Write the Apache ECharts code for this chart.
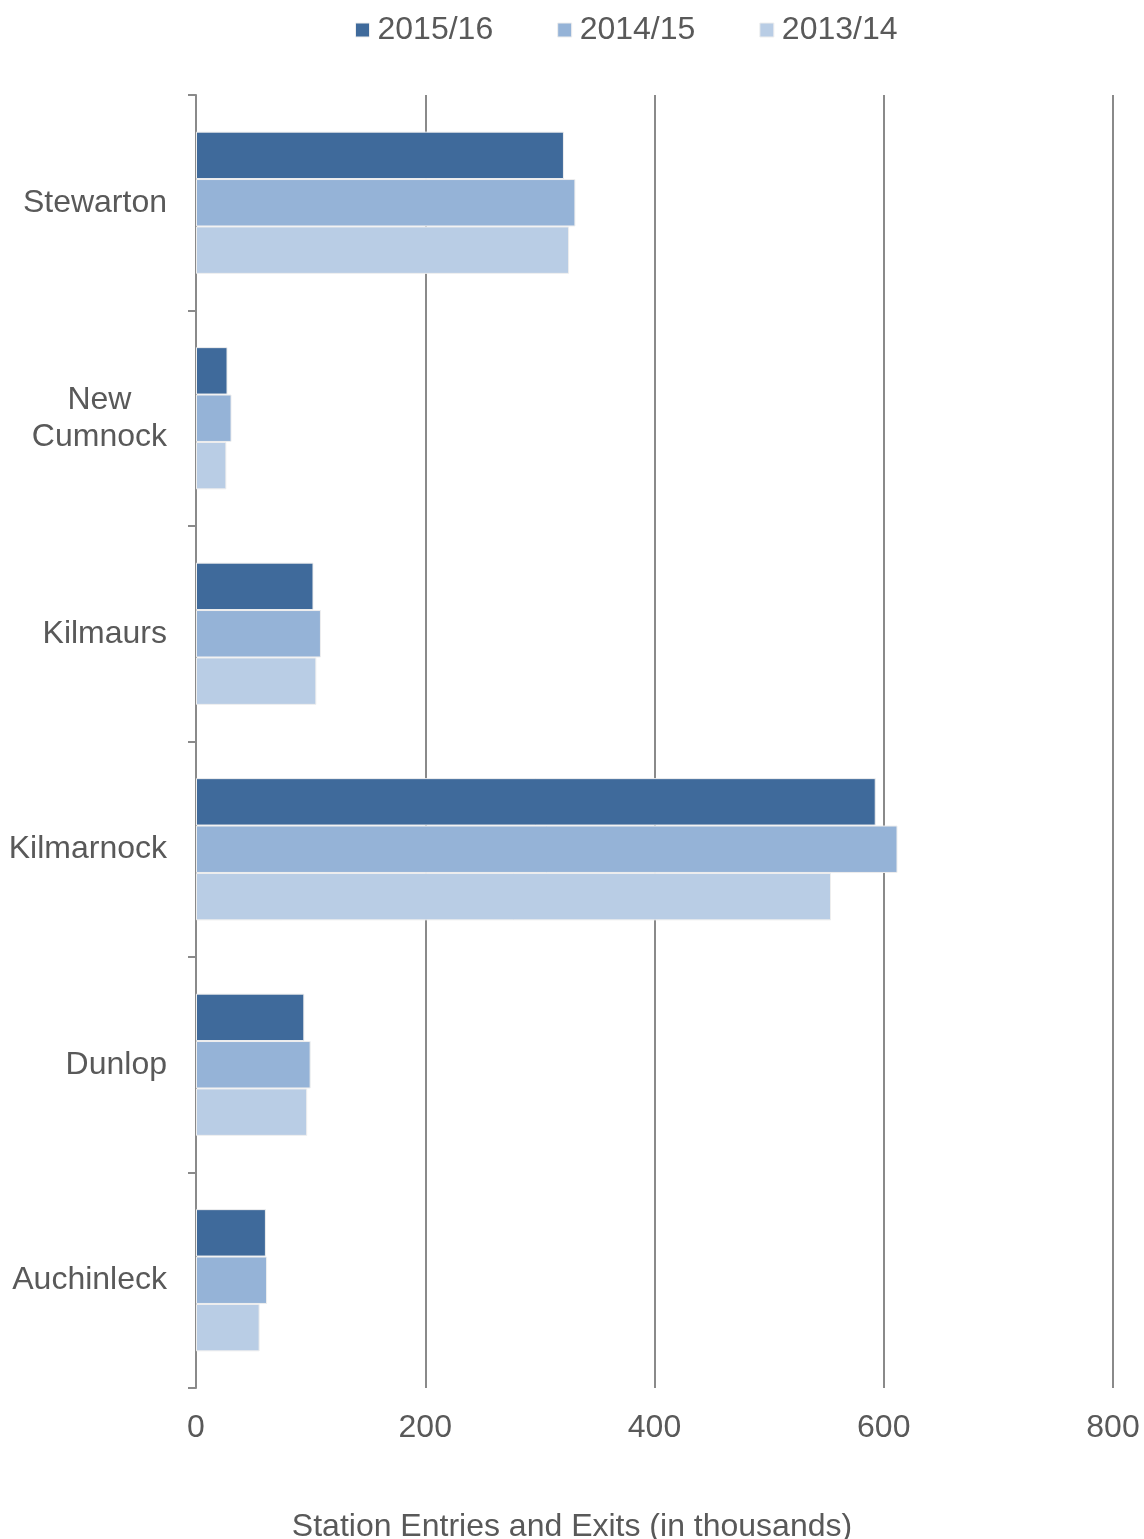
<!DOCTYPE html>
<html>
<head>
<meta charset="utf-8">
<script src="https://cdn.jsdelivr.net/npm/echarts@6/dist/echarts.min.js"></script>
<style>
  html, body { margin: 0; padding: 0; background: #ffffff; }
  #chart { width: 1144px; height: 1539px; }
</style>
</head>
<body>
<div id="chart"></div>
<script>
// Stations, listed top to bottom
const stations = ['Stewarton', 'New Cumnock', 'Kilmaurs', 'Kilmarnock', 'Dunlop', 'Auchinleck'];

// Station entries and exits, in thousands
const years = ['2015/16', '2014/15', '2013/14'];
const entries2015_16 = [321, 27.5, 102.5, 593, 94.5, 61];
const entries2014_15 = [331, 31, 109, 612, 100, 62];
const entries2013_14 = [325.5, 26.5, 105, 554, 97, 55.5];

const xTicks = { min: 0, max: 800, interval: 200 };
const colors = ['#3F6A9B', '#95B3D7', '#B9CDE5'];

const textColor = '#595959';
const fontFamily = '"Liberation Sans", Arial, sans-serif';
const fontSize = 32;

const chart = echarts.init(document.getElementById('chart'), null, { renderer: 'canvas' });

const seriesValues = [entries2015_16, entries2014_15, entries2013_14];

chart.setOption({
  animation: false,
  backgroundColor: '#ffffff',
  color: colors,
  textStyle: { fontFamily: fontFamily, color: textColor },
  title: {
    text: 'Station Entries and Exits (in thousands)',
    left: 'center',
    top: 1506,
    textStyle: { fontFamily: fontFamily, fontSize: fontSize, fontWeight: 'normal', color: textColor }
  },
  legend: {
    data: years,
    top: 9,
    left: 350,
    itemWidth: 14,
    itemHeight: 14,
    itemGap: 64,
    icon: 'rect',
    itemStyle: { borderColor: '#eeeeee', borderWidth: 1 },
    textStyle: { fontFamily: fontFamily, fontSize: fontSize, color: textColor, padding: [0, 0, 0, 3] }
  },
  grid: { left: 196, right: 31, top: 95, bottom: 151, containLabel: false },
  xAxis: {
    type: 'value',
    min: xTicks.min,
    max: xTicks.max,
    interval: xTicks.interval,
    axisLine: { show: false },
    axisTick: { show: false },
    axisLabel: { fontSize: fontSize, color: textColor, margin: 24, fontFamily: fontFamily },
    splitLine: { show: true, lineStyle: { color: '#8a8a8a', width: 2 } }
  },
  yAxis: {
    type: 'category',
    data: stations,
    inverse: true,
    axisLine: { show: true, lineStyle: { color: '#8a8a8a', width: 2 } },
    axisTick: { show: true, length: 8, alignWithLabel: false, lineStyle: { color: '#8a8a8a', width: 2 } },
    axisLabel: {
      fontSize: fontSize,
      color: textColor,
      margin: 29,
      fontFamily: fontFamily,
      lineHeight: 37,
      formatter: function (name) {
        const parts = name === 'New Cumnock' ? ['New', 'Cumnock'] : [name];
        return parts.map(p => '{c|' + p + '}').join('\n');
      },
      rich: {
        c: { align: 'center', fontSize: fontSize, color: textColor, fontFamily: fontFamily, lineHeight: 37 }
      }
    },
    splitLine: { show: false }
  },
  series: years.map((y, i) => ({
    name: y,
    type: 'bar',
    data: seriesValues[i],
    barGap: '0%',
    barCategoryGap: '34%',
    itemStyle: { color: colors[i], borderColor: '#eeeeee', borderWidth: 1 }
  }))
});
</script>
</body>
</html>
